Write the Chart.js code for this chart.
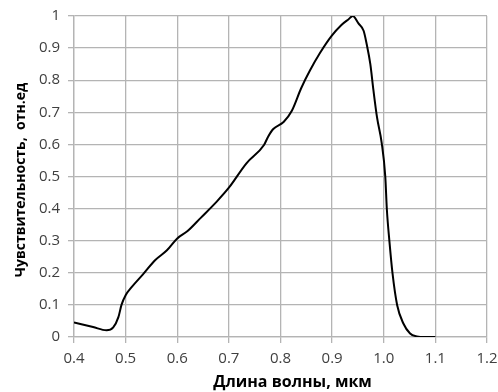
<!DOCTYPE html>
<html>
<head>
<meta charset="utf-8">
<script src="https://cdn.jsdelivr.net/npm/chart.js@4.4.0/dist/chart.umd.min.js"></script>
<style>
html,body{margin:0;padding:0;background:#fff;}
#c{display:block;}
</style>
</head>
<body>
<canvas id="c" width="498" height="392"></canvas>
<script>
const wavelength = [0.400,0.437,0.463,0.476,0.486,0.492,0.500,0.512,0.534,0.557,0.580,0.600,0.620,0.646,0.676,0.700,0.734,0.768,0.776,0.786,0.806,0.822,0.840,0.857,0.877,0.899,0.918,0.932,0.940,0.951,0.961,0.967,0.974,0.980,0.987,0.996,1.003,1.006,1.011,1.017,1.026,1.038,1.051,1.064,1.080,1.100];
const sensitivity = [0.045,0.031,0.021,0.030,0.062,0.100,0.130,0.156,0.196,0.239,0.270,0.307,0.330,0.372,0.421,0.465,0.541,0.598,0.624,0.648,0.670,0.705,0.775,0.830,0.886,0.938,0.972,0.990,1.000,0.977,0.954,0.912,0.850,0.769,0.684,0.605,0.499,0.398,0.298,0.198,0.099,0.042,0.011,0.002,0.000,0.000];
const xTicks = ['0.4','0.5','0.6','0.7','0.8','0.9','1.0','1.1','1.2'];
const yTicks = ['0','0.1','0.2','0.3','0.4','0.5','0.6','0.7','0.8','0.9','1'];
const xTitle = 'Длина волны, мкм';
const yTitle = 'Чувствительность,  отн.ед';

const points = wavelength.map((x,i)=>({x:x,y:sensitivity[i]}));
const gridColor = '#b4b4b4';
const tickFont = {family:'"Open Sans"', size:15};

new Chart(document.getElementById('c'), {
  type:'line',
  data:{datasets:[{data:points, borderColor:'#000', borderWidth:2, pointRadius:0, fill:false, cubicInterpolationMode:'monotone'}]},
  options:{
    responsive:false, animation:false,
    plugins:{legend:{display:false}, tooltip:{enabled:false}},
    layout:{padding:{top:16,right:11,left:0,bottom:0}},
    scales:{
      x:{type:'linear', min:0.4, max:1.2,
        afterBuildTicks:(s)=>{s.ticks = xTicks.map(v=>({value:parseFloat(v)}));},
        afterFit:(s)=>{s.height=55; s.paddingRight=0; s.paddingLeft=0;},
        ticks:{color:'#404040', font:tickFont, padding:7, callback:(v)=>{const i=xTicks.findIndex(t=>Math.abs(parseFloat(t)-v)<1e-6);return i>=0?xTicks[i]:'';}, maxRotation:0, autoSkip:false},
        grid:{color:gridColor, lineWidth:1.3, tickLength:6},
        border:{color:gridColor, width:1.3},
        title:{display:true, text:'\u2002\u2002\u2002' + xTitle, color:'#000', font:{family:'"Open Sans"', size:16, weight:'bold'}, padding:{top:0,bottom:0}}
      },
      y:{type:'linear', min:0, max:1,
        afterBuildTicks:(s)=>{s.ticks = yTicks.map(v=>({value:parseFloat(v)}));},
        afterFit:(s)=>{s.width=74; s.paddingTop=0; s.paddingBottom=0;},
        ticks:{color:'#404040', font:tickFont, padding:8, callback:(v)=>{const i=yTicks.findIndex(t=>Math.abs(parseFloat(t)-v)<1e-6);return i>=0?yTicks[i]:'';}, autoSkip:false},
        grid:{color:gridColor, lineWidth:1.3, tickLength:6},
        border:{color:gridColor, width:1.3},
        title:{display:true, text:yTitle + '\u2002', color:'#000', font:{family:'"Open Sans"', size:14, weight:'bold'}, padding:{top:13,bottom:0}}
      }
    }
  }
});
</script>
</body>
</html>
